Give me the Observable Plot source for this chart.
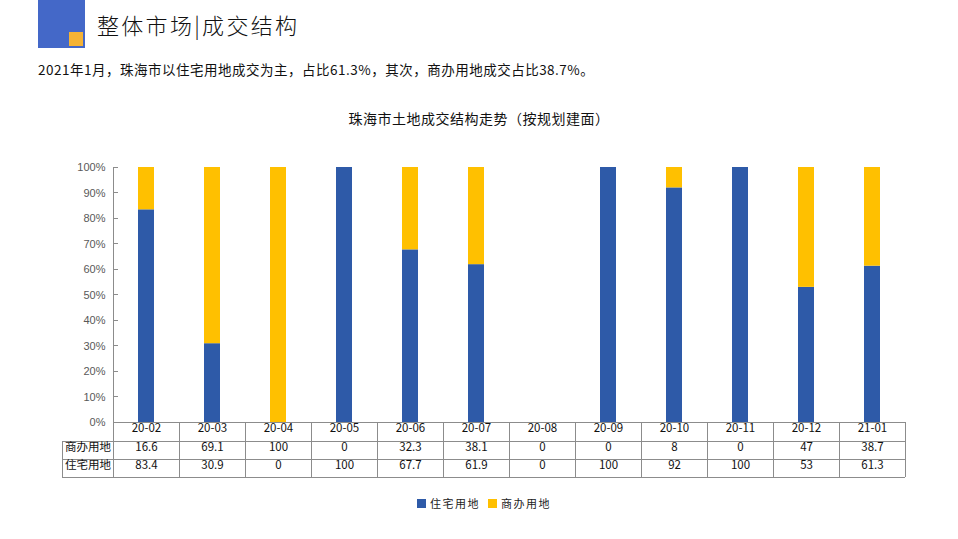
<!DOCTYPE html>
<html><head><meta charset="utf-8">
<script src="https://cdn.jsdelivr.net/npm/d3@7"></script>
<script src="https://cdn.jsdelivr.net/npm/@observablehq/plot@0.6"></script>
<style>
body{margin:0;background:#fff;}
#page{position:relative;width:958px;height:539px;overflow:hidden;font-family:"Noto Sans CJK SC",sans-serif;color:#111;}
.blue{position:absolute;left:38px;top:0;width:47px;height:48px;background:#4468C8;}
.orange{position:absolute;left:69px;top:32px;width:14px;height:14px;background:#F5B335;}
.h1{position:absolute;left:97px;top:10px;font-size:22px;line-height:28px;letter-spacing:2.3px;white-space:nowrap;font-weight:300;}
.sub{position:absolute;left:38px;top:59px;font-size:13.5px;line-height:20px;letter-spacing:0.5px;white-space:nowrap;}
.ctitle{position:absolute;left:0;top:108px;width:958px;text-align:center;font-size:14px;line-height:20px;letter-spacing:0.5px;}
#chart{position:absolute;left:0;top:150px;}
.legend{position:absolute;left:417px;top:495px;display:flex;align-items:center;font-size:11px;letter-spacing:1.5px;white-space:nowrap;color:#222;}
.sw{display:inline-block;width:9px;height:9px;margin-right:4px;}
</style></head><body>
<div id="page">
  <div class="blue"></div><div class="orange"></div>
  <div class="h1">整体市场|成交结构</div>
  <div class="sub">2021年1月，珠海市以住宅用地成交为主，占比61.3%，其次，商办用地成交占比38.7%。</div>
  <div class="ctitle">珠海市土地成交结构走势（按规划建面）</div>
  <div id="chart"></div>
  <div class="legend" id="legend"></div>
</div>
<script>
const months = ["20-02","20-03","20-04","20-05","20-06","20-07","20-08","20-09","20-10","20-11","20-12","21-01"];
const residential = [83.4, 30.9, 0, 100, 67.7, 61.9, 0, 100, 92, 100, 53, 61.3];
const commercial = [16.6, 69.1, 100, 0, 32.3, 38.1, 0, 0, 8, 0, 47, 38.7];
const seriesNames = ["住宅用地", "商办用地"];
const yTicks = [0, 10, 20, 30, 40, 50, 60, 70, 80, 90, 100];
const colors = ["#2E5AA8", "#FFC000"];

const data = months.flatMap((m, i) => [
  {month: m, type: seriesNames[0], value: residential[i]},
  {month: m, type: seriesNames[1], value: commercial[i]}
]);

const ML = 113, MR = 53, MT = 17, PH = 255, MB = 62;
const ROW = [0, 19, 37, 55];
const LABELW = 51;
const lineColor = "#8c8c8c";
const cjk = "Noto Sans CJK SC, sans-serif";

function tableMark(index, scales) {
  const x = scales.x, y = scales.y;
  const step = x(months[1]) - x(months[0]);
  const x0 = x(months[0]);
  const x1 = x(months[months.length - 1]) + step;
  const yTop = y(100), yBase = y(0);
  const g = d3.create("svg:g").attr("stroke", lineColor).attr("stroke-width", 1).attr("fill", "none").attr("shape-rendering", "crispEdges");
  g.append("line").attr("x1", x0).attr("x2", x0).attr("y1", yTop).attr("y2", yBase + ROW[3]);
  for (const t of yTicks) {
    g.append("line").attr("x1", x0).attr("x2", x0 + 5).attr("y1", y(t)).attr("y2", y(t));
  }
  g.append("line").attr("x1", x0).attr("x2", x1).attr("y1", yBase + ROW[0]).attr("y2", yBase + ROW[0]);
  for (let r = 1; r < ROW.length; r++) {
    g.append("line").attr("x1", x0 - LABELW).attr("x2", x1).attr("y1", yBase + ROW[r]).attr("y2", yBase + ROW[r]);
  }
  g.append("line").attr("x1", x0 - LABELW).attr("x2", x0 - LABELW).attr("y1", yBase + ROW[1]).attr("y2", yBase + ROW[3]);
  for (let i = 1; i <= months.length; i++) {
    const xx = x0 + i * step;
    g.append("line").attr("x1", xx).attr("x2", xx).attr("y1", yBase + ROW[0]).attr("y2", yBase + ROW[3]);
  }
  return g.node();
}

const textOpts = {fontFamily: cjk, fontSize: 11.5, fill: "#111"};
const rowMid = r => (ROW[r] + ROW[r + 1]) / 2;

const chart = Plot.plot({
  width: 958,
  height: MT + PH + MB,
  marginLeft: ML, marginRight: MR, marginTop: MT, marginBottom: MB,
  x: {domain: months, padding: 0, axis: null},
  y: {domain: [0, 100], axis: null},
  color: {domain: seriesNames, range: colors},
  style: {overflow: "visible", background: "transparent"},
  marks: [
    Plot.axisY(yTicks, {tickSize: 0, tickPadding: 8, label: null, tickFormat: d => d + "%", fontFamily: "Liberation Sans, Arial, sans-serif", fontSize: 11, color: "#595959"}),
    Plot.barY(data, {x: "month", y: "value", fill: "type", insetLeft: 25, insetRight: 25}),
    tableMark,
    Plot.text(months, {x: d => d, text: d => d, frameAnchor: "bottom", dy: rowMid(0), ...textOpts}),
    Plot.text(months.map((m, i) => ({m, v: commercial[i]})), {x: "m", text: d => String(d.v), frameAnchor: "bottom", dy: rowMid(1), ...textOpts}),
    Plot.text(months.map((m, i) => ({m, v: residential[i]})), {x: "m", text: d => String(d.v), frameAnchor: "bottom", dy: rowMid(2), ...textOpts}),
    Plot.text([seriesNames[1]], {text: d => d, frameAnchor: "bottom-left", textAnchor: "middle", dx: -LABELW / 2, dy: rowMid(1), ...textOpts, letterSpacing: 1}),
    Plot.text([seriesNames[0]], {text: d => d, frameAnchor: "bottom-left", textAnchor: "middle", dx: -LABELW / 2, dy: rowMid(2), ...textOpts, letterSpacing: 1})
  ]
});
document.getElementById("chart").appendChild(chart);

const legend = document.getElementById("legend");
seriesNames.forEach((n, i) => {
  const item = document.createElement("span");
  item.style.display = "inline-flex";
  item.style.alignItems = "center";
  item.style.marginRight = i === 0 ? "8px" : "0";
  item.innerHTML = `<span class="sw" style="background:${colors[i]}"></span>${n}`;
  legend.appendChild(item);
});
</script>
</body></html>
